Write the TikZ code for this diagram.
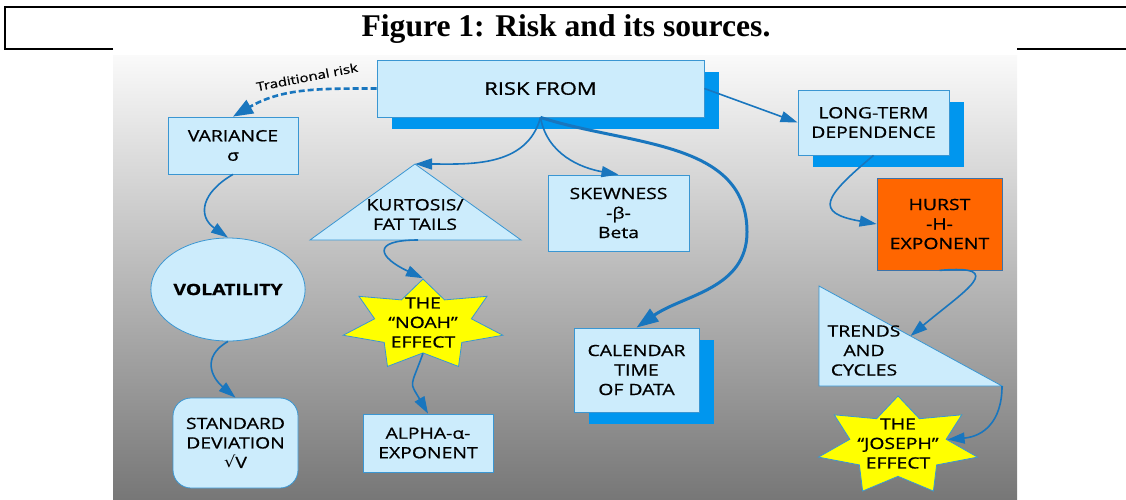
\documentclass[tikz,border=0pt]{standalone}
\usepackage{fontspec}
\usepackage{tikz}
\usetikzlibrary{arrows.meta,shapes.geometric,shadows,calc,positioning}
\newfontfamily\dgfont[FakeStretch=1.25, FakeBold=0.8]{Open Sans}
\newfontfamily\titlefont{Liberation Serif}
\newfontfamily\symfont[FakeStretch=1.15]{DejaVu Sans}

\definecolor{boxfill}{RGB}{204,236,252}
\definecolor{boxline}{RGB}{58,150,210}
\definecolor{shadowblue}{RGB}{0,150,238}
\definecolor{linkblue}{RGB}{25,118,190}
\definecolor{hurstorange}{RGB}{255,102,0}
\definecolor{hurstline}{RGB}{60,115,170}
\definecolor{staryellow}{RGB}{255,255,0}
\definecolor{bgtop}{RGB}{250,250,250}
\definecolor{bgmid}{RGB}{198,198,198}
\definecolor{bgbot}{RGB}{119,119,119}

\begin{document}
\begin{tikzpicture}[x=1pt, y=1pt, >={Triangle[length=17pt,width=11pt]},
    txt/.style={font=\dgfont\fontsize{15.5}{19.5}\selectfont, align=center, text=black},
    box/.style={txt, draw=boxline, fill=boxfill, line width=0.8pt, inner sep=0pt},
    shadowed/.style={drop shadow={shadow xshift=15pt, shadow yshift=-12pt, fill=shadowblue, opacity=1}},
    shapeline/.style={draw=boxline, fill=boxfill, line width=0.8pt},
    starbox/.style={star, star points=7, star point ratio=1.65, draw=boxline, fill=staryellow, line width=0.8pt, inner sep=0pt, transform shape},
    link/.style={->, draw=linkblue, line width=1.6pt},
    biglink/.style={-{Triangle[length=22pt,width=15pt]}, draw=linkblue, line width=3pt},
    tradlink/.style={-{Triangle[length=20pt,width=15pt]}, draw=linkblue, line width=2.6pt, dash pattern=on 6pt off 3pt},
    frame/.style={draw=black, line width=2pt}]

    \useasboundingbox (0,0) rectangle (1126,-499);

    % Frame and title
    \shade[top color=bgtop, middle color=bgmid, bottom color=bgbot] (113,-55) rectangle (1017,-499);
    \draw[frame] (113,-49) -- (5,-49) -- (5,-7) -- (1126,-7);
    \draw[frame] (1017,-49) -- (1126,-49);
    \node[font=\titlefont\bfseries\fontsize{31.6}{36}\selectfont] (title) at (566,-29) {Figure 1: Risk and its sources.};

    % Top box
    \node[box, shadowed, minimum width=327pt, minimum height=57pt, font=\dgfont\fontsize{17.5}{20}\selectfont] (risk) at (540.5,-88.5) {RISK FROM};
    \node[txt, font=\dgfont\fontsize{12}{14}\selectfont, rotate=11] (trad) at (307,-77) {Traditional risk};

    % Left column
    \node[box, minimum width=130pt, minimum height=57pt] (var) at (233,-145.5) {VARIANCE\\σ};
    \node[box, ellipse, minimum width=140pt, minimum height=103pt] (vol) at (228,-289.5) {\bfseries VOLATILITY};
    \node[box, rounded corners=18pt, minimum width=125pt, minimum height=90pt] (std) at (235.5,-443) {STANDARD\\DEVIATION\\{\symfont √}V};

    % Kurtosis column
    \coordinate (kurtleft) at (310,-240);
    \coordinate (kurtapex) at (415,-164);
    \coordinate (kurtright) at (521,-240);
    \coordinate (kurtbase) at (418,-240);
    \draw[shapeline] (kurtleft) -- (kurtapex) -- (kurtright) -- cycle;
    \node[txt] (kurt) at (415,-214.5) {KURTOSIS/\\FAT TAILS};
    \begin{scope}[shift={(423,-325)}, xscale=1.78]
        \node[starbox, minimum size=92pt] (noahstar) at (0,0) {};
    \end{scope}
    \node[txt] (noah) at (423,-322.5) {THE\\“NOAH”\\EFFECT};
    \node[box, minimum width=130pt, minimum height=58pt] (alpha) at (428,-443) {ALPHA-α-\\EXPONENT};

    % Middle column
    \node[box, minimum width=141pt, minimum height=76pt] (skew) at (618.5,-213) {SKEWNESS\\-β-\\Beta};
    \node[box, shadowed, minimum width=125pt, minimum height=84pt] (cal) at (636.5,-370) {CALENDAR\\TIME\\OF DATA};
    \coordinate (calbend) at (747,-232);

    % Right column
    \node[box, shadowed, minimum width=151pt, minimum height=65pt] (longterm) at (873.5,-122.5) {LONG-TERM\\DEPENDENCE};
    \node[box, fill=hurstorange, draw=hurstline, minimum width=125pt, minimum height=92pt] (hurst) at (939.5,-224) {HURST\\-H-\\EXPONENT};
    \coordinate (trendstop) at (819,-286);
    \coordinate (trendscorner) at (819,-386);
    \coordinate (trendsright) at (1002,-386);
    \coordinate (trendsslope) at ($(trendstop)!0.5!(trendsright)$);
    \draw[shapeline] (trendstop) -- (trendscorner) -- (trendsright) -- cycle;
    \node[txt] (trends) at (864,-350.5) {TRENDS\\AND\\CYCLES};
    \begin{scope}[shift={(898,-446)}, xscale=1.63]
        \node[starbox, minimum size=100pt] (josephstar) at (0,0) {};
    \end{scope}
    \node[txt] (joseph) at (898,-443.5) {THE\\“JOSEPH”\\EFFECT};

    % Connectors
    \draw[tradlink] (risk.west) to[out=180, in=30] (var.north);
    \draw[link] (risk.south) to[out=-105, in=0] (kurtapex);
    \draw[link] (risk.south) to[out=-80, in=170] (skew.north);
    \draw[biglink] (risk.south) to[out=-18, in=90] (calbend) to[out=-90, in=35] (cal.north);
    \draw[link] (risk.east) -- (longterm.west);
    \draw[link] (var.south) to[out=-150, in=145, looseness=1.5] (vol.north);
    \draw[link] (vol.south) to[out=-150, in=140, looseness=1.4] (std.north);
    \draw[link] (kurtbase) to[out=180, in=155, looseness=3.2] (noahstar.north);
    \draw[link] (noahstar.south) to[out=-110, in=120, looseness=1.6] (alpha.north);
    \draw[link] (longterm.south) to[out=-140, in=170, looseness=2.4] (hurst.west);
    \draw[link] (hurst.south) to[out=5, in=40, looseness=2.5] (trendsslope);
    \draw[link] (trendsright) to[out=-90, in=5, looseness=1.2] (josephstar.12.86);

\end{tikzpicture}
\end{document}
